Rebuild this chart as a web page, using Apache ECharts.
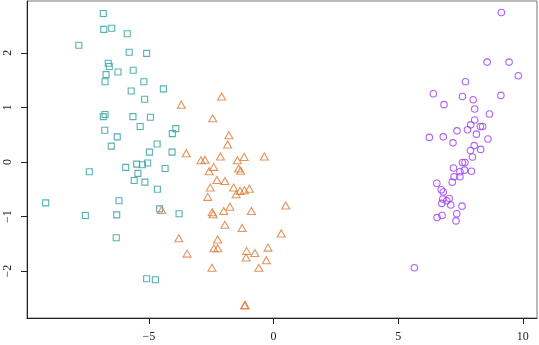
<!DOCTYPE html>
<html>
<head>
<meta charset="utf-8">
<script src="https://cdn.jsdelivr.net/npm/echarts@6/dist/echarts.min.js"></script>
<style>
  html, body { margin: 0; padding: 0; background: #fff; }
  #chart { width: 539px; height: 345px; }
</style>
</head>
<body>
<div id="chart"></div>
<script>
// Group 1 (squares)
const groupA = [
  [-6.83, 2.72], [-6.81, 2.43], [-6.49, 2.45], [-5.87, 2.35], [-7.81, 2.14],
  [-5.79, 2.01], [-5.09, 1.99], [-6.63, 1.81], [-6.59, 1.75], [-6.24, 1.65],
  [-5.63, 1.68], [-6.72, 1.60], [-6.76, 1.47], [-5.20, 1.47], [-5.71, 1.30],
  [-4.42, 1.34], [-5.17, 1.15], [-6.76, 0.87], [-6.83, 0.83], [-5.64, 0.83],
  [-4.94, 0.82], [-5.35, 0.65], [-3.92, 0.61], [-4.06, 0.52], [-6.77, 0.58],
  [-6.27, 0.46], [-6.51, 0.29], [-4.67, 0.33], [-4.98, 0.18], [-4.07, 0.18],
  [-5.49, -0.04], [-5.26, -0.05], [-5.05, -0.02], [-5.93, -0.10], [-4.35, -0.12],
  [-7.39, -0.18], [-5.44, -0.21], [-5.59, -0.34], [-5.16, -0.37], [-4.66, -0.50],
  [-9.14, -0.75], [-6.20, -0.71], [-7.55, -0.98], [-6.29, -0.97], [-4.57, -0.86],
  [-3.79, -0.95], [-6.31, -1.39], [-5.09, -2.14], [-4.74, -2.16]
];

// Group 2 (triangles)
const groupB = [
  [-2.08, 1.20], [-3.70, 1.05], [-2.44, 0.80], [-1.79, 0.49], [-1.84, 0.32],
  [-3.50, 0.16], [-2.13, 0.10], [-0.37, 0.10], [-1.18, 0.09], [-1.45, 0.03],
  [-2.91, 0.03], [-2.75, 0.04], [-2.40, -0.09], [-2.58, -0.17], [-1.40, -0.12],
  [-1.32, -0.16], [-2.27, -0.33], [-1.95, -0.35], [-2.54, -0.47], [-1.60, -0.47],
  [-0.97, -0.49], [-1.34, -0.53], [-1.17, -0.52], [-1.50, -0.59], [-2.64, -0.64],
  [0.49, -0.80], [-1.75, -0.82], [-2.46, -0.92], [-2.42, -0.96], [-2.00, -0.90],
  [-0.89, -0.90], [-4.49, -0.88], [-1.95, -1.15], [-1.26, -1.21], [0.31, -1.31],
  [-3.80, -1.40], [-2.24, -1.42], [-2.39, -1.58], [-2.24, -1.58], [-1.08, -1.63],
  [-0.75, -1.67], [-0.22, -1.57], [-3.47, -1.68], [-1.10, -1.75], [-0.29, -1.80],
  [-2.47, -1.94], [-0.59, -1.94], [-1.16, -2.63], [-1.14, -2.62]
];

// Group 3 (circles)
const groupC = [
  [9.14, 2.74], [8.57, 1.83], [9.45, 1.83], [9.82, 1.58], [7.70, 1.47],
  [6.41, 1.25], [7.58, 1.20], [9.12, 1.22], [8.01, 1.14], [6.84, 1.05],
  [8.07, 0.97], [8.66, 0.88], [8.07, 0.77], [7.91, 0.68], [8.30, 0.65],
  [8.39, 0.65], [7.36, 0.57], [7.78, 0.59], [8.14, 0.51], [6.25, 0.45],
  [6.81, 0.46], [8.60, 0.42], [7.20, 0.35], [8.05, 0.30], [7.90, 0.21],
  [8.31, 0.23], [7.98, 0.09], [7.58, -0.01], [7.68, -0.01], [7.22, -0.11],
  [7.48, -0.18], [7.66, -0.15], [7.94, -0.17], [7.24, -0.27], [7.48, -0.27],
  [7.17, -0.37], [6.55, -0.39], [6.73, -0.51], [6.81, -0.55], [6.79, -0.68],
  [7.05, -0.67], [6.95, -0.71], [6.75, -0.76], [7.11, -0.79], [7.56, -0.81],
  [7.35, -0.95], [6.76, -0.98], [6.56, -1.02], [7.32, -1.08], [5.65, -1.94]
];

const xTicks = [-5, 0, 5, 10];
const yTicks = [-2, -1, 0, 1, 2];

const serif = '"Liberation Serif", "DejaVu Serif", serif';
const fmt = v => String(v).replace('-', '\u2212');

function hollow(name, data, symbol, size, color) {
  return {
    name, type: 'scatter', data, symbol, symbolSize: size,
    itemStyle: { color: 'rgba(255,255,255,0)', borderColor: color, borderWidth: 1.1 },
    emphasis: { disabled: true },
    silent: true
  };
}

const chart = echarts.init(document.getElementById('chart'), null, { renderer: 'canvas' });
chart.setOption({
  animation: false,
  backgroundColor: '#fff',
  grid: {
    left: 27, right: 2, top: 1, bottom: 27,
    show: true, borderColor: '#777', borderWidth: 1, backgroundColor: 'transparent'
  },
  xAxis: {
    type: 'value', min: -9.89, max: 10.57,
    splitLine: { show: false },
    axisLine: { show: true, onZero: false, lineStyle: { color: '#222', width: 1 } },
    axisTick: { show: true, customValues: xTicks, length: 6, inside: false, lineStyle: { color: '#222' } },
    axisLabel: {
      customValues: xTicks, formatter: fmt, margin: 13,
      fontFamily: serif, fontSize: 12, color: '#222'
    }
  },
  yAxis: {
    type: 'value', min: -2.86, max: 2.95,
    splitLine: { show: false },
    axisLine: { show: true, onZero: false, lineStyle: { color: '#222', width: 1 } },
    axisTick: { show: true, customValues: yTicks, length: 6, inside: false, lineStyle: { color: '#222' } },
    axisLabel: {
      customValues: yTicks, formatter: fmt, rotate: 90, margin: 13,
      fontFamily: serif, fontSize: 12, color: '#222'
    }
  },
  series: [
    hollow('A', groupA, 'rect', 6, '#2a9f9f'),
    hollow('B', groupB, 'triangle', [8, 7], '#dc7a38'),
    hollow('C', groupC, 'circle', 6.5, '#9b3cf4')
  ]
});
</script>
</body>
</html>
